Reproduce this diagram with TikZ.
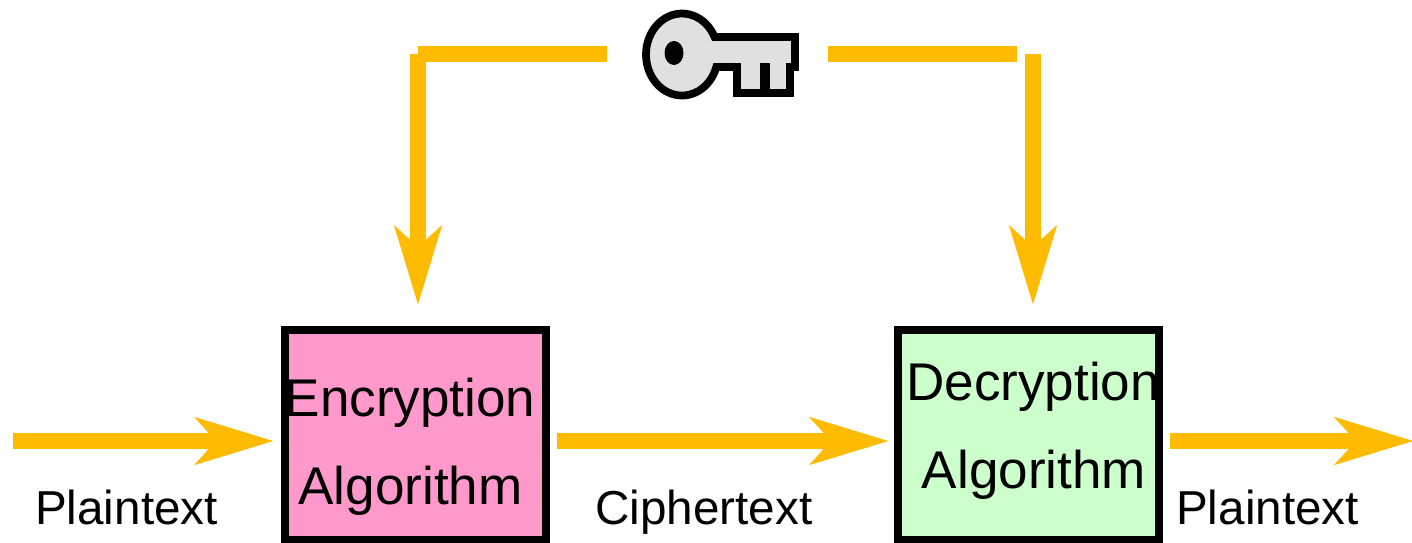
\documentclass[tikz,border=0pt]{standalone}
\usepackage{fontspec}
\setmainfont{Liberation Sans}
\usetikzlibrary{arrows.meta}
\definecolor{flowcolor}{HTML}{FFBB00}
\definecolor{encfill}{HTML}{FF99CC}
\definecolor{decfill}{HTML}{CCFFCC}
\definecolor{keyfill}{HTML}{E0E0E0}
\tikzset{
  flow/.style={line width=4.55pt, flowcolor, -{Stealth[length=.78cm,width=.46cm,inset=.2cm]}},
  flowline/.style={line width=4.55pt, flowcolor},
  algobox/.style={draw=black, line width=2.2pt, minimum width=2.61cm, minimum height=2.10cm, inner sep=0pt},
  label/.style={font=\fontsize{13.55}{16}\selectfont, anchor=base, inner sep=0pt},
  boxlabel/.style={font=\fontsize{15.1}{18}\selectfont, anchor=base, inner sep=0pt}
}
\begin{document}
\begin{tikzpicture}
    \useasboundingbox (0,0) rectangle (14.12,5.43);

    % Riquadri
    \node[algobox, fill=encfill] (encbox) at (4.155,1.08) {};
    \node[algobox, fill=decfill] (decbox) at (10.285,1.08) {};

    % Testi
    \node[boxlabel] (enctop) at (4.10,1.26) {Encryption};
    \node[boxlabel] (encbot) at (4.105,0.38) {Algorithm};
    \node[boxlabel] (dectop) at (10.33,1.42) {Decryption};
    \node[boxlabel] (decbot) at (10.34,0.54) {Algorithm};
    \node[label] (plainin) at (1.265,0.18) {Plaintext};
    \node[label] (cipher) at (7.04,0.18) {Ciphertext};
    \node[label] (plainout) at (12.675,0.18) {Plaintext};

    % Punti di aggancio
    \coordinate (wirein) at (0.13,1.02);
    \coordinate (wireout) at (14.14,1.02);
    \coordinate (keyleft) at (6.07,4.89);
    \coordinate (keyright) at (8.28,4.89);
    \coordinate (cornerleft) at (4.18,4.89);
    \coordinate (cornerright) at (10.17,4.89);
    \coordinate (dropleft) at (4.18,4.89);
    \coordinate (dropright) at (10.33,4.89);

    % Frecce
    \draw[flow, shorten >=.07cm] (wirein) -- (wirein -| encbox.west);
    \draw[flow, shorten <=.07cm, shorten >=.05cm] (wirein -| encbox.east) -- (wirein -| decbox.west);
    \draw[flow, shorten <=.07cm] (wirein -| decbox.east) -- (wireout);
    \draw[flowline] (keyleft) -- (cornerleft);
    \draw[flowline] (keyright) -- (cornerright);
    \draw[flow, shorten >=.21cm] (dropleft) -- (dropleft |- encbox.north);
    \draw[flow, shorten >=.21cm] (dropright) -- (dropright |- decbox.north);

    % Chiave
    \filldraw[fill=keyfill, draw=black, line width=2.2pt, miter limit=10]
        (7.163,4.76) arc[start angle=-17.7, end angle=-334.7, x radius=.36cm, y radius=.41cm]
        -- (7.95,5.06) -- (7.95,4.76) -- (7.90,4.76) -- (7.90,4.50) -- (7.37,4.50) -- (7.37,4.76) -- cycle;
    \fill[black] (7.60,4.50) rectangle (7.70,4.80);
    \fill[black] (6.74,4.90) ellipse (.095cm and .12cm);
\end{tikzpicture}
\end{document}
